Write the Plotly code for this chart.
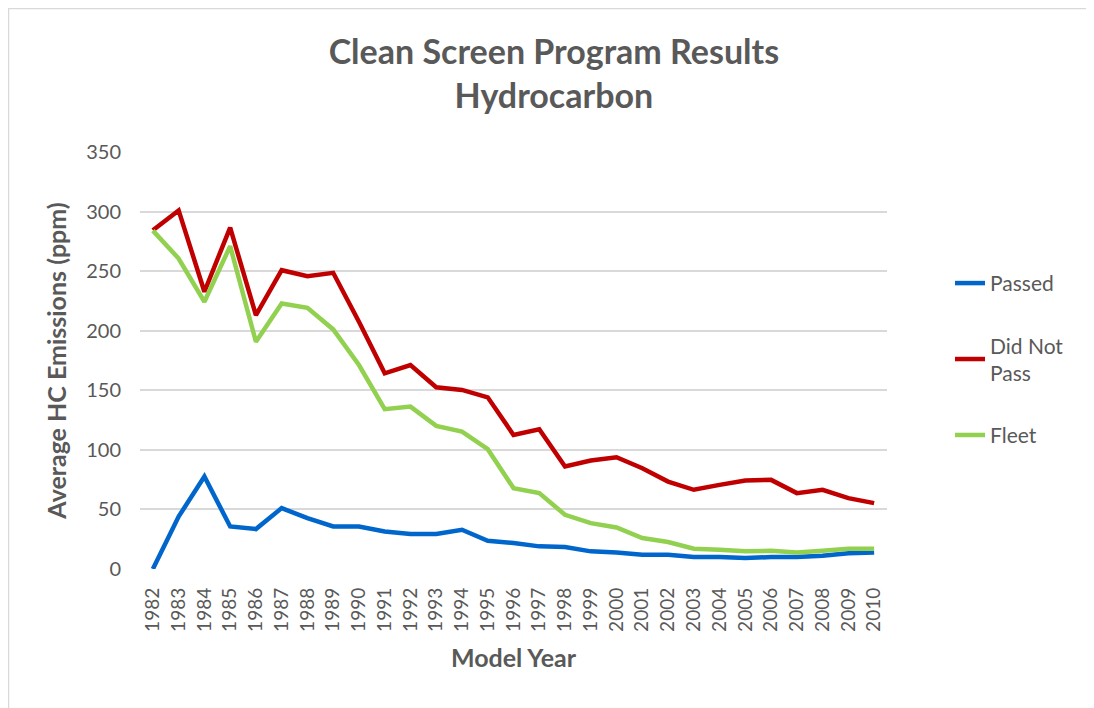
import plotly.graph_objects as go

years = [str(y) for y in range(1982, 2011)]
passed = [0, 44, 77.6, 35.7, 33.5, 51.1, 42.7, 35.7, 35.7, 31.5, 29.3, 29.3, 32.9, 23.7,
          21.8, 19, 18.4, 14.8, 13.9, 12, 12, 10, 10, 9.3, 10, 10, 11.2, 13.3, 13.9]
did_not_pass = [284.3, 301, 232.7, 286.6, 213, 250.8, 245.8, 248.6, 207.5, 164.2, 171.2, 152.5,
                150.3, 144.1, 112.5, 117.3, 86, 91, 93.8, 84.6, 73.4, 66.5, 70.6, 74.3, 74.8,
                63.7, 66.5, 59.5, 55.3]
fleet = [284, 260.6, 224.3, 271, 190.7, 222.9, 219.2, 201.1, 171.2, 134.1, 136.3, 120.1, 115.3,
         100.6, 67.9, 63.7, 45.5, 38.5, 34.9, 26, 22.6, 17, 16.2, 14.8, 15.3, 13.9, 15.3, 17, 17]

series = [
    ("Passed", passed, "#0066CC"),
    ("Did Not<br>Pass", did_not_pass, "#C00000"),
    ("Fleet", fleet, "#92D050"),
]

FONT = "Lato"
GRAY = "#595959"

W, H = 1094, 708
ML, MR, MT, MB = 132, 215, 144, 147
PW, PH = W - ML - MR, H - MT - MB

fig = go.Figure()
for i, (name, vals, color) in enumerate(series):
    fig.add_trace(go.Scatter(
        x=years, y=vals, name=name, mode="lines",
        line=dict(color=color, width=4.5),
        legendgroup=str(i),
    ))

fig.update_layout(
    width=W, height=H,
    margin=dict(l=ML, r=MR, t=MT, b=MB),
    paper_bgcolor="white", plot_bgcolor="white",
    font=dict(family=FONT, color=GRAY, size=20),
    title=dict(
        text="<b>Clean Screen Program Results<br>Hydrocarbon</b>",
        x=0.499, xanchor="center", y=0.921, yanchor="top",
        font=dict(family=FONT, size=34, color=GRAY),
    ),
    showlegend=True,
    legend=dict(
        x=(942 - ML) / PW, xanchor="left", y=0.734, yanchor="top",
        font=dict(family=FONT, size=21, color=GRAY),
        tracegroupgap=32,
        bgcolor="rgba(0,0,0,0)",
    ),
    xaxis=dict(
        type="category", range=[-0.5, 28.5],
        tickangle=-90, showgrid=False, showline=False, ticks="",
        ticklabelstandoff=14,
        tickfont=dict(family=FONT, size=19, color=GRAY),
        title=dict(text="<b>Model Year</b>", font=dict(family=FONT, size=25, color=GRAY), standoff=18),
    ),
    yaxis=dict(
        range=[0, 350], dtick=50, showgrid=True, gridcolor="#D9D9D9", gridwidth=1.5,
        zeroline=False, showline=False, ticks="",
        ticklabelstandoff=18,
        tickfont=dict(family=FONT, size=20, color=GRAY),
        title=dict(text="<b>Average HC Emissions (ppm)</b>", font=dict(family=FONT, size=25, color=GRAY), standoff=12),
    ),
    shapes=[dict(
        type="rect", xref="paper", yref="paper",
        x0=(0.5 - ML) / PW, x1=(W + 10 - ML) / PW,
        y0=(PH + MT - (H - 3)) / PH, y1=(PH + MT - 0.5) / PH,
        line=dict(color="#D9D9D9", width=1.5), fillcolor="rgba(0,0,0,0)", layer="below",
    )],
)

fig.write_html("out.html")
